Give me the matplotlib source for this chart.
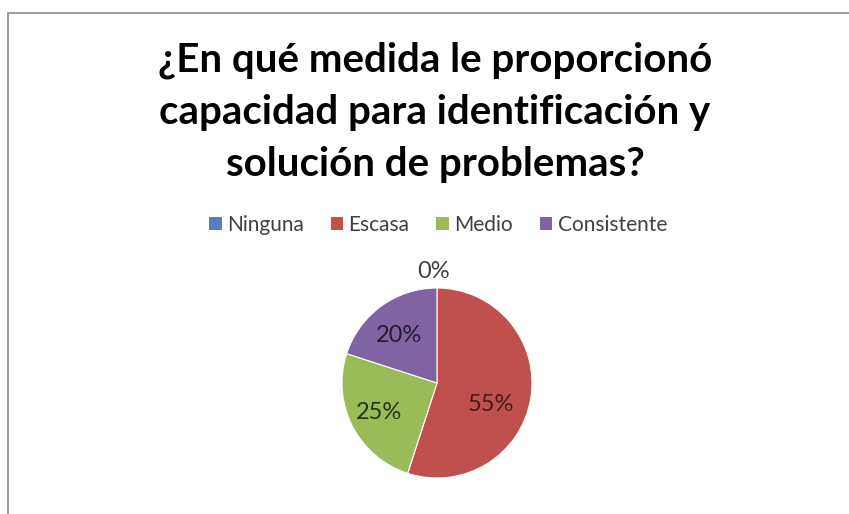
import matplotlib
matplotlib.use("Agg")
import matplotlib.pyplot as plt
import numpy as np
from matplotlib.patches import Rectangle

title = "¿En qué medida le proporcionó\ncapacidad para identificación y\nsolución de problemas?"
categories = ["Ninguna", "Escasa", "Medio", "Consistente"]
values = [0, 55, 25, 20]
colors = ["#4F81BD", "#C0504D", "#9BBB59", "#8064A2"]
label_colors = ["#404040", "#4A1A1A", "#26331A", "#231A33"]
# Excel "best fit" label placement: angle (deg) and radius (fraction of R)
label_angles = [92, -22, 207, 129]
label_radii = [1.17, 0.61, 0.68, 0.64]

plt.rcParams["font.family"] = ["Lato", "DejaVu Sans"]

W, H = 849, 514
fig = plt.figure(figsize=(W / 100, H / 100), dpi=100)

# chart frame (top and left edges visible, the rest is cropped)
fig.patches.append(Rectangle((8 / W, -0.1), 1.2, 1 - 12.5 / H + 0.1,
                             transform=fig.transFigure, fill=False,
                             edgecolor="#8C8C8C", linewidth=1.2))

fig.text(435 / W, 1 - 112 / H, title, ha="center", va="center",
         fontsize=29, fontweight="bold", color="black", linespacing=1.5)

cx, cy, r = 437, 383, 95
ax = fig.add_axes([(cx - r) / W, 1 - (cy + r) / H, 2 * r / W, 2 * r / H])
wedges, _ = ax.pie(values, colors=colors, startangle=90, counterclock=False,
                   wedgeprops=dict(linewidth=0.8, edgecolor="white"))
ax.set_xlim(-1, 1)
ax.set_ylim(-1, 1)
ax.set_aspect("equal")

for v, ang, rad, c in zip(values, label_angles, label_radii, label_colors):
    t = np.deg2rad(ang)
    ax.text(rad * np.cos(t), rad * np.sin(t), f"{v}%", ha="center",
            va="center", fontsize=17, color=c, clip_on=False)

handles = [Rectangle((0, 0), 1, 1, facecolor=c) for c in colors]
fig.legend(handles, categories, loc="center", bbox_to_anchor=(438 / W, 1 - 225 / H),
           ncol=4, frameon=False, fontsize=15, handlelength=0.6,
           handleheight=0.6, handletextpad=0.25, columnspacing=1.3,
           labelcolor="#404040")

fig.savefig("out.png", dpi=100)
